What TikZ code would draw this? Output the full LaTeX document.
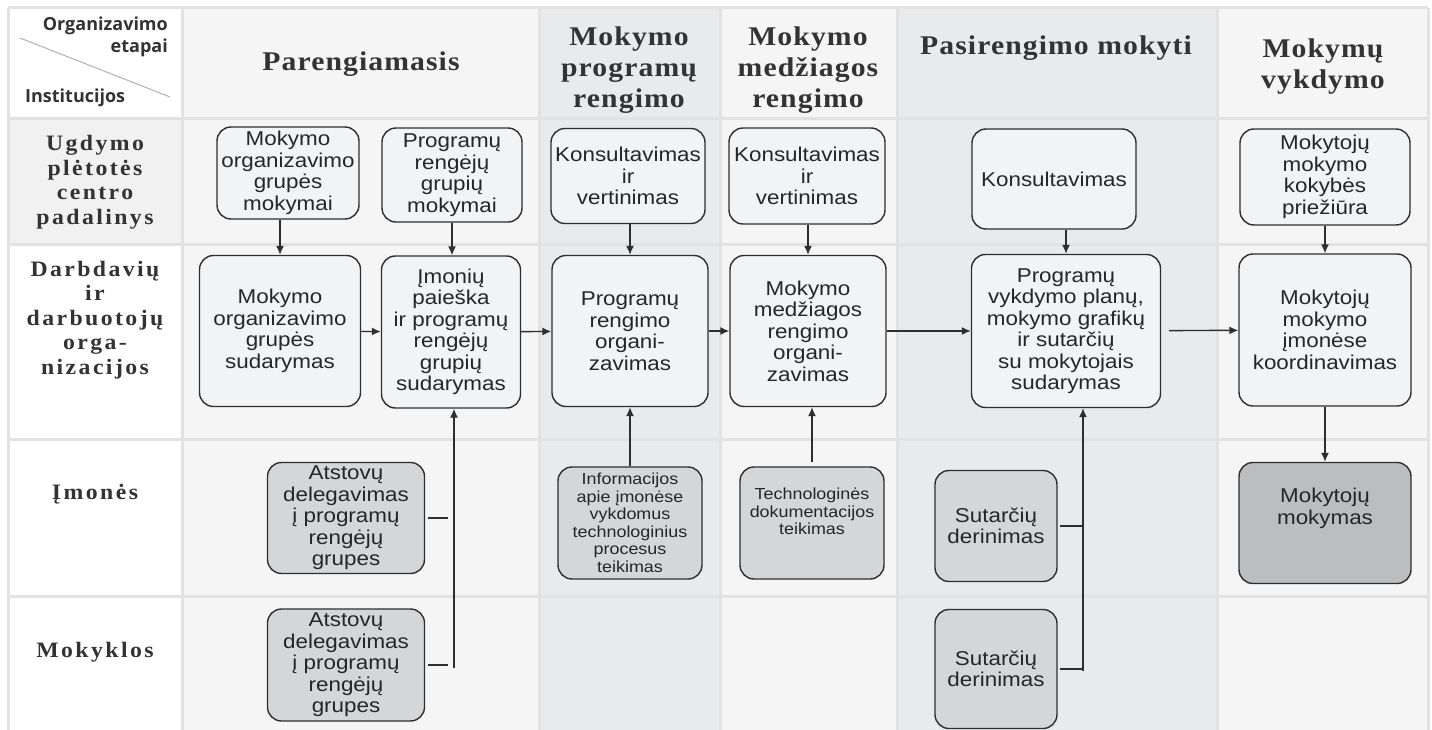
\documentclass[tikz,border=0pt]{standalone}
\usepackage{fontspec}
\setmainfont{Liberation Sans}
\newfontfamily\boxfont{Liberation Sans}[FakeStretch=1.12]
\newfontfamily\headfont{Liberation Serif Bold}[FakeStretch=1.1,LetterSpace=4]
\newfontfamily\rowfont{Liberation Serif Bold}[FakeStretch=1.08,LetterSpace=11]
\newfontfamily\cornerfont{Open Sans Bold}
\usetikzlibrary{arrows.meta}
\definecolor{lightcol}{HTML}{F5F5F5}
\definecolor{darkcol}{HTML}{E9EAEC}
\definecolor{rowone}{HTML}{F1F1F1}
\definecolor{gridgray}{HTML}{E2E2E2}
\definecolor{boxline}{HTML}{2E2E2E}
\definecolor{boxfill}{HTML}{F2F3F5}
\definecolor{midfill}{HTML}{D5D6D8}
\definecolor{darkfill}{HTML}{BCBDBF}
\definecolor{inkgray}{HTML}{262626}
\definecolor{headgray}{HTML}{333333}
\tikzset{
    gridline/.style={draw=gridgray, line width=3pt},
    stagebox/.style={draw=boxline, line width=1.4pt, rounded corners=14pt, fill=boxfill,
            align=center, inner sep=0pt, text=inkgray,
            font=\boxfont\fontsize{20}{21.5}\selectfont},
    partbox/.style={stagebox, fill=midfill},
    mainbox/.style={stagebox, fill=darkfill},
    smallbox/.style={partbox, font=\boxfont\fontsize{16}{17.5}\selectfont},
    stagehead/.style={align=center, text=headgray, font=\headfont\fontsize{27}{31}\selectfont},
    rowhead/.style={align=center, text=headgray, font=\rowfont\fontsize{22}{24.5}\selectfont},
    cornertext/.style={text=headgray, inner sep=0pt, font=\cornerfont\fontsize{18}{22}\selectfont},
    flow/.style={line width=1.4pt, draw=boxline, -{Latex[length=9pt,width=8pt]}},
    link/.style={line width=1.4pt, draw=boxline},
}

\begin{document}
\begin{tikzpicture}[x=1pt, y=-1pt]
        \useasboundingbox (0,0) rectangle (1432,730);
        %column backgrounds
        \foreach \xa/\xb/\c in {182/539/lightcol, 539/720/darkcol, 720/897/lightcol, 897/1217/darkcol, 1217/1428/lightcol}
            \fill[\c] (\xa,8) rectangle (\xb,730);
        \fill[white] (8,8) rectangle (182,730);
        \fill[rowone] (8,119) rectangle (182,244);
        %grid lines
        \foreach \y in {8, 119, 244, 439, 596}
            \draw[gridline] (8,\y) -- (1428,\y);
        \foreach \x in {8, 182, 539, 720, 897, 1217, 1428}
            \draw[gridline] (\x,8) -- (\x,730);

        %corner cell
        \draw[draw=black!30, line width=1pt] (20,38) -- (170,97);
        \node[cornertext, align=right, anchor=north east] (etapai) at (168,17) {Organizavimo\\etapai};
        \node[cornertext, anchor=base west] (inst) at (25,103) {Institucijos};

        %stage headers
        \node[stagehead] (hParen) at (361,64) {Parengiamasis};
        \node[stagehead] (hProg) at (629,70) {Mokymo\\programų\\rengimo};
        \node[stagehead] (hMed) at (808,70) {Mokymo\\medžiagos\\rengimo};
        \node[stagehead] (hPasi) at (1056,48) {Pasirengimo mokyti};
        \node[stagehead] (hVykd) at (1323,67) {Mokymų\\vykdymo};

        %institution headers
        \node[rowhead] (rUpc) at (95,182) {Ugdymo\\plėtotės\\centro\\padalinys};
        \node[rowhead] (rDarb) at (95,320) {Darbdavių\\ir\\darbuotojų\\orga-\\nizacijos};
        \node[rowhead] (rImon) at (95,494) {Įmonės};
        \node[rowhead] (rMok) at (95,652) {Mokyklos};

        %first row
        \node[stagebox, minimum width=142pt, minimum height=92pt] (A1) at (288,173) {Mokymo\\organizavimo\\grupės\\mokymai};
        \node[stagebox, minimum width=140pt, minimum height=94pt] (A2) at (452,175) {Programų\\rengėjų\\grupių\\mokymai};
        \node[stagebox, minimum width=154pt, minimum height=95pt] (A3) at (628,176) {Konsultavimas\\ir\\vertinimas};
        \node[stagebox, minimum width=156pt, minimum height=96pt] (A4) at (807,176) {Konsultavimas\\ir\\vertinimas};
        \node[stagebox, minimum width=164pt, minimum height=100pt] (A5) at (1054,179) {Konsultavimas};
        \node[stagebox, minimum width=170pt, minimum height=96pt] (A6) at (1325,177) {Mokytojų\\mokymo\\kokybės\\priežiūra};

        %second row
        \node[stagebox, minimum width=161pt, minimum height=151pt] (B1) at (280,331) {Mokymo\\organizavimo\\grupės\\sudarymas};
        \node[stagebox, minimum width=139pt, minimum height=152pt] (B2) at (451,332) {Įmonių\\paieška\\ir programų\\rengėjų\\grupių\\sudarymas};
        \node[stagebox, minimum width=156pt, minimum height=151pt] (B3) at (630,331) {Programų\\rengimo\\organi-\\zavimas};
        \node[stagebox, minimum width=156pt, minimum height=151pt] (B4) at (808,331) {Mokymo\\medžiagos\\rengimo\\organi-\\zavimas};
        \node[stagebox, minimum width=189pt, minimum height=153pt] (B5) at (1066,331) {Programų\\vykdymo planų,\\mokymo grafikų\\ir sutarčių\\su mokytojais\\sudarymas};
        \node[stagebox, minimum width=172pt, minimum height=152pt] (B6) at (1325,330) {Mokytojų\\mokymo\\įmonėse\\koordinavimas};

        %third and fourth rows
        \node[partbox, minimum width=157pt, minimum height=111pt] (C1) at (346,518) {Atstovų\\delegavimas\\į programų\\rengėjų\\grupes};
        \node[partbox, minimum width=157pt, minimum height=112pt] (D1) at (346,665) {Atstovų\\delegavimas\\į programų\\rengėjų\\grupes};
        \node[smallbox, minimum width=144pt, minimum height=112pt] (C3) at (630,523) {Informacijos\\apie įmonėse\\vykdomus\\technologinius\\procesus\\teikimas};
        \node[smallbox, minimum width=144pt, minimum height=112pt] (C4) at (812,523) {Technologinės\\dokumentacijos\\teikimas\\[6pt]};
        \node[partbox, minimum width=122pt, minimum height=111pt] (C5) at (996,526) {Sutarčių\\derinimas};
        \node[partbox, minimum width=122pt, minimum height=119pt] (D5) at (996,669) {Sutarčių\\derinimas};
        \node[mainbox, minimum width=172pt, minimum height=121pt] (C6) at (1325,523) {Mokytojų\\mokymas\\[12pt]};

        %arrows down from the first row
        \draw[flow] (A1.south -| B1.north) -- (B1.north);
        \draw[flow] (A2.south) -- (A2.south |- B2.north);
        \draw[flow] (A3.south -| B3.north) -- (B3.north);
        \draw[flow] (A4.south -| B4.north) -- (B4.north);
        \draw[flow] (A5.south -| B5.north) -- (B5.north);
        \draw[flow] (A6.south -| B6.north) -- (B6.north);

        %main flow
        \draw[flow] (B1) -- (B2);
        \draw[flow] (B2) -- (B3);
        \draw[flow] (B3) -- (B4);
        \draw[flow] (B4) -- (B5);
        \draw[flow, shorten <=8pt] (B5) -- (B6);
        \draw[flow] (B6) -- (C6);

        %support from the lower rows
        \coordinate (jLeft) at (454,668);
        \draw[link] ([xshift=3pt]C1.east) -- ([xshift=23pt]C1.east);
        \draw[link] ([xshift=3pt]D1.east) -- ([xshift=23pt]D1.east);
        \draw[flow] (jLeft) -- (jLeft |- B2.south);
        \draw[flow] (C3.north) -- (C3.north |- B3.south);
        \draw[flow] ([yshift=4pt]C4.north) -- (C4.north |- B4.south);
        \coordinate (jRight) at (1083,671);
        \draw[link] ([xshift=2pt]C5.east) -- ([xshift=25pt]C5.east);
        \draw[link] ([xshift=2pt]D5.east) -- ([xshift=25pt]D5.east);
        \draw[flow] (jRight) -- (jRight |- B5.south);
    \end{tikzpicture}
\end{document}
